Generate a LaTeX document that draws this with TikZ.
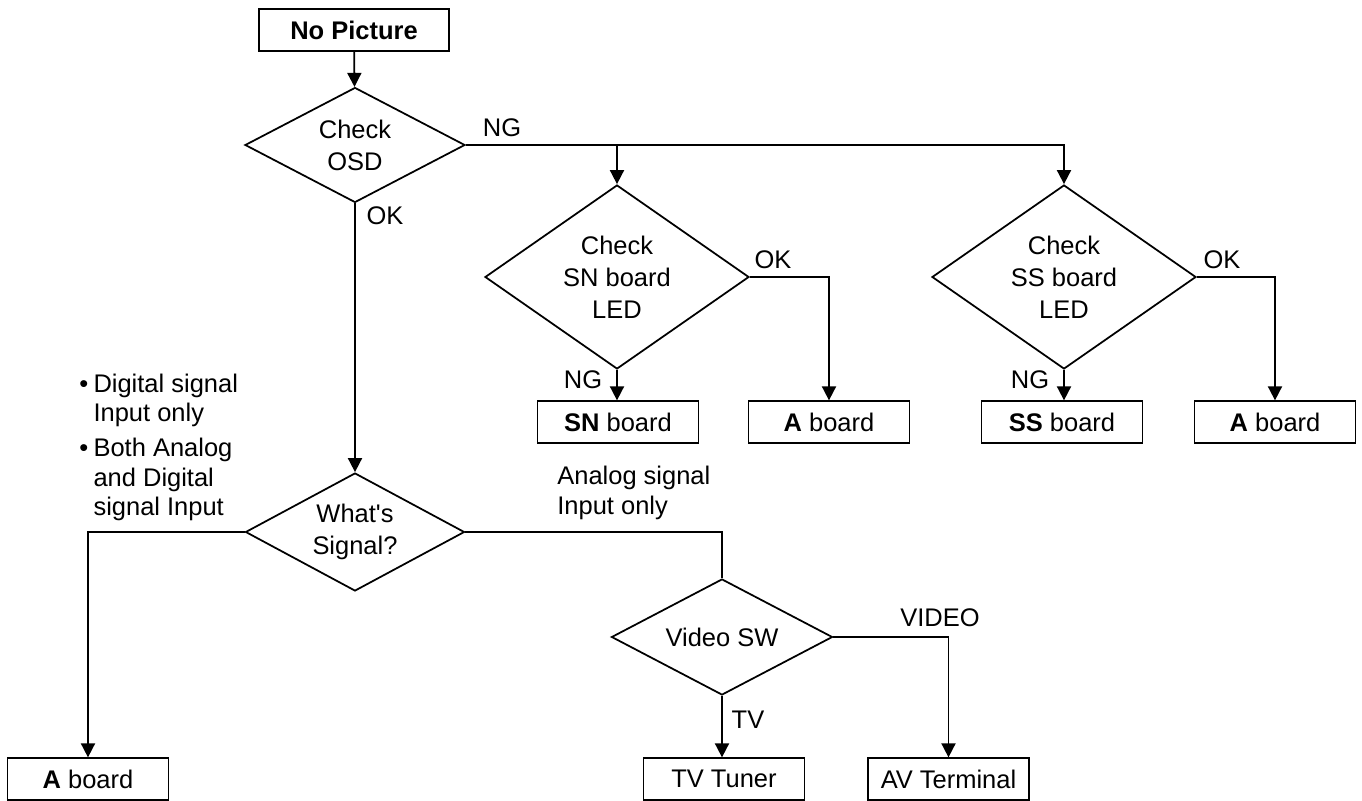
\documentclass[tikz,border=0pt]{standalone}
\usepackage{fontspec}
\setmainfont{Liberation Sans}
\usepackage{tikz}
\usetikzlibrary{positioning, shapes.geometric, arrows.meta}
\tikzset{
  box/.style={
    rectangle, draw=black, line width=1pt,
    fill=white,
    inner sep=2pt,
    minimum width=3.22cm, minimum height=0.83cm,
    align=center,
    font=\fontsize{14.5}{17}\selectfont
  },
  decision/.style={
    diamond, draw=black, line width=1pt,
    fill=white,
    inner sep=0pt, aspect=1.6,
    align=center,
    font=\fontsize{14.5}{18.3}\selectfont
  },
  arrow/.style={
    -{Triangle[length=8pt, width=8pt]},
    black, line width=1pt
  },
  wire/.style={black, line width=1pt},
  tag/.style={inner sep=0pt, font=\fontsize{14.5}{16.8}\selectfont}
}
\begin{document}
\begin{tikzpicture}
        \useasboundingbox (0, 0) rectangle (27.24, -16.02);
        % top of the tree
        \node[box, minimum width=3.8cm, font=\fontsize{14.5}{17}\selectfont\bfseries] (nopic) at (7.08, -0.60) {No Picture};
        \node[decision, minimum width=4.4cm, minimum height=2.3cm] (osd) at (7.10, -2.90) {Check\\OSD};
        % LED checks
        \node[decision, minimum width=5.28cm, minimum height=3.68cm, aspect=1.43] (sn) at (12.34, -5.54) {Check\\SN board\\LED};
        \node[decision, minimum width=5.28cm, minimum height=3.68cm, aspect=1.43] (ss) at (21.28, -5.54) {Check\\SS board\\LED};
        \node[box] (snb) at (12.36, -8.44) {\textbf{SN} board};
        \node[box] (asn) at (16.58, -8.44) {\textbf{A} board};
        \node[box] (ssb) at (21.24, -8.44) {\textbf{SS} board};
        \node[box] (ass) at (25.50, -8.44) {\textbf{A} board};
        % signal checks
        \node[decision, minimum width=4.38cm, minimum height=2.36cm] (sig) at (7.10, -10.64) {What\textquotesingle s\\Signal?};
        \node[decision, minimum width=4.42cm, minimum height=2.32cm, aspect=1.9] (vsw) at (14.44, -12.74) {Video SW};
        \node[box] (abl) at (1.76, -15.58) {\textbf{A} board};
        \node[box] (tvt) at (14.48, -15.58) {TV Tuner};
        \node[box] (avt) at (18.97, -15.58) {AV Terminal};
        % branch labels
        \node[tag] (ngosd) at (10.04, -2.56) {NG};
        \node[tag] (okosd) at (7.70, -4.32) {OK};
        \node[tag] (oksn) at (15.46, -5.20) {OK};
        \node[tag] (ngsn) at (11.66, -7.60) {NG};
        \node[tag] (okss) at (24.44, -5.20) {OK};
        \node[tag] (ngss) at (20.60, -7.60) {NG};
        \node[tag, anchor=west, align=left] (analog) at (11.14, -9.86) {Analog signal\\Input only};
        \node[tag, anchor=west] (digital) at (1.58, -8.96) {%
          \begin{tabular}{@{}l@{\hspace{3pt}}l@{}}
            \textbullet & Digital signal\\
                        & Input only\\[3pt]
            \textbullet & Both Analog\\
                        & and Digital\\
                        & signal Input
          \end{tabular}};
        \node[tag] (video) at (18.80, -12.36) {VIDEO};
        \node[tag] (tv) at (14.96, -14.40) {TV};
        % connectors
        \draw[arrow] (nopic) -- (osd);
        \draw[arrow] (osd.east) -| (ss.north);
        \draw[arrow] (osd.east -| sn.north) -- (sn.north);
        \draw[arrow] (sn.south) -- (sn.south |- snb.north);
        \draw[arrow] (sn.east) -| (asn.north);
        \draw[arrow] (ss.south) -- (ss.south |- ssb.north);
        \draw[arrow] (ss.east) -| (ass.north);
        \draw[arrow] (osd.south) -- (sig.north);
        \draw[arrow] (sig.west) -| (abl.north);
        \draw[wire] (sig.east) -| (vsw.north);
        \draw[arrow] (vsw.south) -- (vsw.south |- tvt.north);
        \draw[arrow] (vsw.east) -| (avt.north);
      \end{tikzpicture}
\end{document}
